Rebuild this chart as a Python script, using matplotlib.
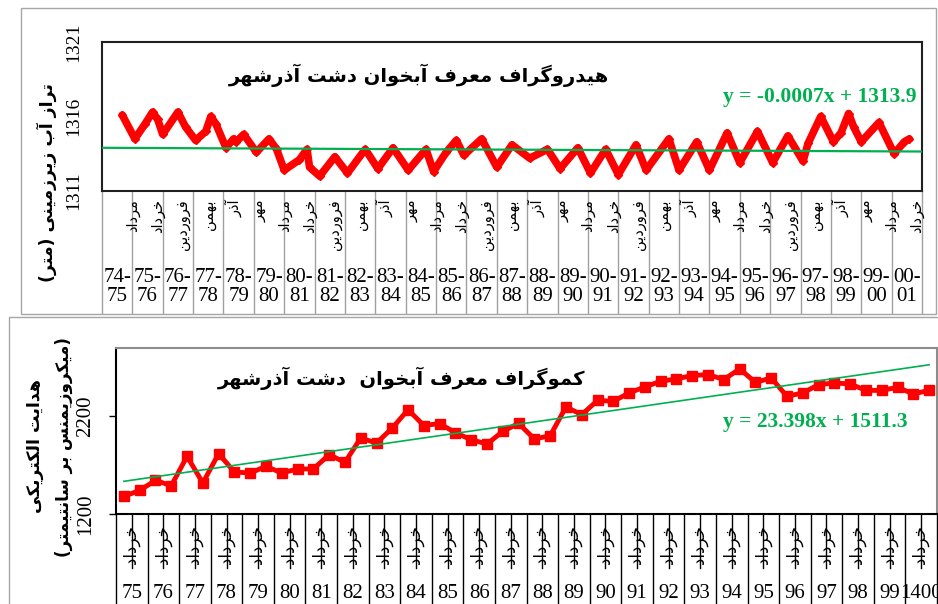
import matplotlib
matplotlib.use('Agg')
import matplotlib.pyplot as plt
from matplotlib.patches import Rectangle

# hydrograph: month index (from mehr 74) and water level, read at turning points
level_month = [8, 13, 17, 20, 22, 24, 30, 33, 37, 41, 43, 45, 49, 52, 53, 56, 61, 66, 69, 72,
               78, 81, 82, 86, 92, 97, 104, 109, 115, 121, 128, 131, 136, 140, 143, 150, 156, 162,
               169, 176, 181, 188, 193, 199, 204, 211, 215, 224, 228, 235, 240, 247, 252, 259, 265,
               271, 277, 279, 284, 289, 292, 295, 297, 300, 307, 313, 317, 319]
level = [1316.1, 1314.5, 1315.5, 1316.3, 1315.8, 1314.8, 1316.3, 1315.3, 1314.4, 1315.0, 1316.0,
         1315.5, 1313.9, 1314.5, 1314.3, 1314.8, 1313.6, 1314.5, 1313.8, 1312.4, 1313.1, 1313.8,
         1312.6, 1312.0, 1313.3, 1312.2, 1313.8, 1312.5, 1313.9, 1312.4, 1313.8, 1312.3, 1313.6,
         1314.4, 1313.4, 1314.5, 1312.6, 1314.1, 1313.2, 1313.8, 1312.5, 1313.9, 1312.2, 1313.8,
         1312.1, 1314.1, 1312.4, 1314.5, 1312.4, 1314.3, 1312.4, 1314.9, 1312.9, 1315.0, 1312.9,
         1314.7, 1313.0, 1314.2, 1316.0, 1314.3, 1314.9, 1316.2, 1315.3, 1314.3, 1315.6, 1313.5,
         1314.3, 1314.5]
level_trend = [1313.9, 1313.65]
water_years = ['74-75', '75-76', '76-77', '77-78', '78-79', '79-80', '80-81', '81-82', '82-83',
               '83-84', '84-85', '85-86', '86-87', '87-88', '88-89', '89-90', '90-91', '91-92',
               '92-93', '93-94', '94-95', '95-96', '96-97', '97-98', '98-99', '99-00', '00-01']
months = ['مهر', 'آبان', 'آذر', 'دی', 'بهمن', 'اسفند', 'فروردین', 'اردیبهشت', 'خرداد',
          'تیر', 'مرداد', 'شهریور']

# chemograph: EC twice a year
ec = [1380, 1442, 1544, 1490, 1790, 1518, 1818, 1630, 1620, 1688, 1620, 1661, 1661, 1808, 1729,
      1978, 1927, 2081, 2268, 2106, 2126, 2032, 1961, 1917, 2046, 2128, 1968, 2002, 2296, 2217,
      2364, 2354, 2440, 2502, 2559, 2584, 2618, 2628, 2577, 2686, 2548, 2593, 2405, 2440, 2525,
      2542, 2532, 2466, 2466, 2497, 2430, 2466]
ec_years = ['75', '76', '77', '78', '79', '80', '81', '82', '83', '84', '85', '86', '87', '88',
            '89', '90', '91', '92', '93', '94', '95', '96', '97', '98', '99', '1400']
ec_month = 'خرداد'
ec_slope, ec_icept = 23.398, 1511.3

title_top = 'هیدروگراف معرف آبخوان دشت آذرشهر'
ylabel_top = 'تراز آب زیرزمینی (متر)'
title_bot = 'کموگراف معرف آبخوان  دشت آذرشهر'
ylabel_bot1 = 'هدایت الکتریکی'
ylabel_bot2 = '(میکروزیمنس بر سانتیمتر)'

# simple persian shaping (matplotlib has no bidi/shaping)
FORMS = {
    'ا': ('\uFE8D', '\uFE8E', None, None), 'آ': ('\uFE81', '\uFE82', None, None),
    'ب': ('\uFE8F', '\uFE90', '\uFE91', '\uFE92'), 'ت': ('\uFE95', '\uFE96', '\uFE97', '\uFE98'),
    'خ': ('\uFEA5', '\uFEA6', '\uFEA7', '\uFEA8'), 'د': ('\uFEA9', '\uFEAA', None, None),
    'ذ': ('\uFEAB', '\uFEAC', None, None), 'ر': ('\uFEAD', '\uFEAE', None, None),
    'ز': ('\uFEAF', '\uFEB0', None, None), 'س': ('\uFEB1', '\uFEB2', '\uFEB3', '\uFEB4'),
    'ش': ('\uFEB5', '\uFEB6', '\uFEB7', '\uFEB8'), 'ع': ('\uFEC9', '\uFECA', '\uFECB', '\uFECC'),
    'ف': ('\uFED1', '\uFED2', '\uFED3', '\uFED4'), 'ل': ('\uFEDD', '\uFEDE', '\uFEDF', '\uFEE0'),
    'م': ('\uFEE1', '\uFEE2', '\uFEE3', '\uFEE4'), 'ن': ('\uFEE5', '\uFEE6', '\uFEE7', '\uFEE8'),
    'ه': ('\uFEE9', '\uFEEA', '\uFEEB', '\uFEEC'), 'و': ('\uFEED', '\uFEEE', None, None),
    'ی': ('\uFBFC', '\uFBFD', '\uFBFE', '\uFBFF'), 'ک': ('\uFB8E', '\uFB8F', '\uFB90', '\uFB91'),
    'گ': ('\uFB92', '\uFB93', '\uFB94', '\uFB95'),
}


def fa(txt):
    out = []
    for i, ch in enumerate(txt):
        if ch not in FORMS:
            out.append(ch)
            continue
        f = FORMS[ch]
        prev = txt[i - 1] if i > 0 else ''
        nxt = txt[i + 1] if i < len(txt) - 1 else ''
        jp = prev in FORMS and FORMS[prev][2] is not None
        jn = nxt in FORMS and f[2] is not None
        if jp and jn:
            out.append(f[3])
        elif jp:
            out.append(f[1])
        elif jn:
            out.append(f[2])
        else:
            out.append(f[0])
    return ''.join(reversed(out)).translate(str.maketrans('()', ')('))


W, H = 938, 604
RED = '#ff0000'
GREEN = '#00b050'
FA = ['DejaVu Sans']
SERIF = ['Liberation Serif', 'DejaVu Serif']


def box(l, t, r, b):
    return [l / W, 1 - b / H, (r - l) / W, (b - t) / H]


def frame(l, t, r, b):
    fig.add_artist(Rectangle((l / W, 1 - b / H), (r - l) / W, (b - t) / H,
                             transform=fig.transFigure, fill=False, ec='#a6a6a6', lw=1))


fig = plt.figure(figsize=(W / 100, H / 100), dpi=100)
frame(20.5, 8, 935.5, 313.5)
frame(8.5, 316.5, 960, 620)

# ---------- top: hydrograph ----------
l, t, r, b = 102, 42, 922, 191
ax1 = fig.add_axes(box(l, t, r, b))
n_months = 12 * len(water_years)
ax1.plot(level_month, level, color=RED, lw=5.5, solid_joinstyle='round', solid_capstyle='round',
         marker='D', ms=4, zorder=3)
ax1.plot([0, n_months], level_trend, color=GREEN, lw=1.6, zorder=4)
ax1.set_xlim(0, n_months)
ax1.set_ylim(1311, 1321)
ax1.set_xticks([])
ax1.set_yticks([1311, 1316, 1321])
ax1.set_yticklabels(['1311', '1316', '1321'], family=SERIF, fontsize=14, rotation=90, va='center')
ax1.tick_params(axis='y', length=0, pad=14)
for s in ax1.spines.values():
    s.set_color('#202020')
    s.set_linewidth(1.5)

xt = ax1.get_xaxis_transform()
ph = b - t
for k in range(len(water_years) + 1):
    ax1.plot([12 * k, 12 * k], [0, -(313 - b) / ph], transform=xt, color='#a0a0a0', lw=1,
             clip_on=False)
for k, wy in enumerate(water_years):
    a, c = wy.split('-')
    ax1.text(12 * k + 6, -(287 - b) / ph, a + '-\n' + c, transform=xt, ha='center', va='center',
             family=SERIF, fontsize=15, linespacing=0.95)
for m in range(10, n_months, 10):
    ax1.text(m + 2, -(199 - b) / ph, fa(months[m % 12]), transform=xt, rotation=90, ha='center',
             va='top', family=FA, fontsize=10.5)

ax1.text(419 / W, 1 - 75 / H, fa(title_top), transform=fig.transFigure, ha='center', va='center',
         family=FA, fontsize=14, weight='bold')
ax1.text(820 / W, 1 - 97 / H, 'y = -0.0007x + 1313.9', transform=fig.transFigure, ha='center',
         va='center', family=SERIF, fontsize=15.5, weight='bold', color=GREEN)
ax1.text(47 / W, 1 - 183 / H, fa(ylabel_top), transform=fig.transFigure, ha='center', va='center',
         rotation=90, family=FA, fontsize=12.5, weight='bold')

# ---------- bottom: chemograph ----------
l, t, r, b = 116, 348, 937, 514
ax2 = fig.add_axes(box(l, t, r, b))
xs = [i + 0.5 for i in range(len(ec))]
ax2.plot(xs, ec, color=RED, lw=3.5, marker='s', ms=7, zorder=3)
ax2.plot([xs[0], xs[-1]], [ec_slope * 1 + ec_icept, ec_slope * len(ec) + ec_icept],
         color=GREEN, lw=1.2, zorder=4)
ax2.set_xlim(0, len(ec))
ax2.set_ylim(1200, 2900)
ax2.set_xticks([])
ax2.set_yticks([1200, 2200])
ax2.set_yticklabels(['1200', '2200'], family=SERIF, fontsize=15, rotation=90, va='center')
ax2.tick_params(axis='y', length=5, width=1, direction='out', pad=10)
ax2.spines['top'].set_color('#8c8c8c')
ax2.spines['right'].set_color('#8c8c8c')
for s in ax2.spines.values():
    s.set_linewidth(1.5)

xt = ax2.get_xaxis_transform()
ph = b - t
for k in range(len(ec_years) + 1):
    ax2.plot([2 * k, 2 * k], [0, -(610 - b) / ph], transform=xt, color='black', lw=1,
             clip_on=False)
for k, yr in enumerate(ec_years):
    ax2.plot([2 * k + 1, 2 * k + 1], [0, -(568 - b) / ph], transform=xt, color='black', lw=1,
             clip_on=False)
    ax2.text(2 * k + 0.95, -(525 - b) / ph, fa(ec_month), transform=xt, rotation=90, ha='center',
             va='top', family=FA, fontsize=12)
    ax2.text(2 * k + 1, -(593 - b) / ph, yr, transform=xt, ha='center', va='center',
             family=SERIF, fontsize=15)

ax2.text(402 / W, 1 - 378 / H, fa(title_bot), transform=fig.transFigure, ha='center',
         va='center', family=FA, fontsize=14, weight='bold')
ax2.text(815 / W, 1 - 422 / H, 'y = 23.398x + 1511.3', transform=fig.transFigure, ha='center',
         va='center', family=SERIF, fontsize=15.5, weight='bold', color=GREEN)
ax2.text(35 / W, 1 - 446 / H, fa(ylabel_bot1), transform=fig.transFigure, ha='center',
         va='center', rotation=90, family=FA, fontsize=12.5, weight='bold')
ax2.text(64 / W, 1 - 447 / H, fa(ylabel_bot2), transform=fig.transFigure, ha='center',
         va='center', rotation=90, family=FA, fontsize=12, weight='bold')

fig.savefig('out.png', dpi=100)
